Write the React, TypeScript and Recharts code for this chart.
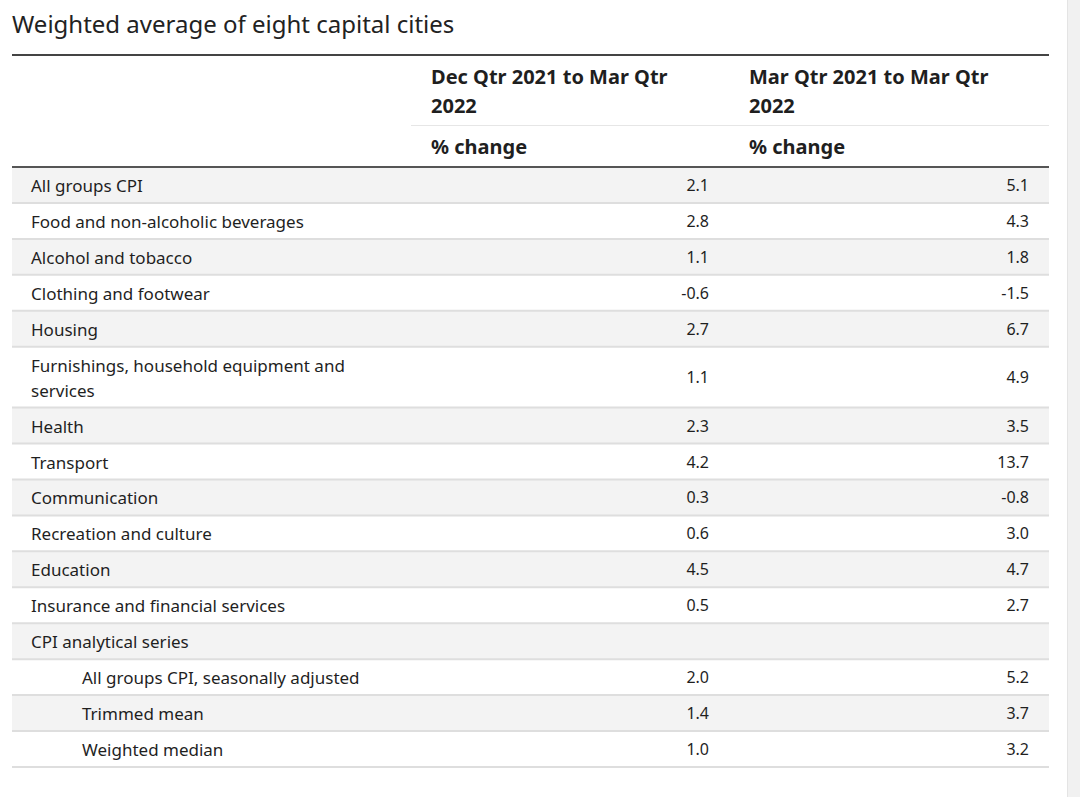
import { ScatterChart, Scatter, XAxis, YAxis, ReferenceArea, ReferenceLine } from 'recharts';

const categories = [
  'All groups CPI',
  'Food and non-alcoholic beverages',
  'Alcohol and tobacco',
  'Clothing and footwear',
  'Housing',
  'Furnishings, household equipment and services',
  'Health',
  'Transport',
  'Communication',
  'Recreation and culture',
  'Education',
  'Insurance and financial services',
  'CPI analytical series',
  'All groups CPI, seasonally adjusted',
  'Trimmed mean',
  'Weighted median',
];

// null = heading row with no figures
const decToMar = [2.1, 2.8, 1.1, -0.6, 2.7, 1.1, 2.3, 4.2, 0.3, 0.6, 4.5, 0.5, null, 2.0, 1.4, 1.0];
const marToMar = [5.1, 4.3, 1.8, -1.5, 6.7, 4.9, 3.5, 13.7, -0.8, 3.0, 4.7, 2.7, null, 5.2, 3.7, 3.2];

// sub-items of "CPI analytical series"
const subItems = ['All groups CPI, seasonally adjusted', 'Trimmed mean', 'Weighted median'];

const colHeaders = ['Dec Qtr 2021 to Mar Qtr', 'Mar Qtr 2021 to Mar Qtr'];

const FONT = '"Noto Sans", "Open Sans", sans-serif';
const TEXT = '#1f1f1f';
const MARGIN = { top: 167, right: 31, bottom: 30, left: 12 };
const LINE_H = 25;
const ROW_PAD = 11;

const wrap = (s: string, max = 40) => {
  const lines: string[] = [];
  let cur = '';
  s.split(' ').forEach((w) => {
    if ((cur + ' ' + w).trim().length > max) {
      lines.push(cur);
      cur = w;
    } else {
      cur = (cur + ' ' + w).trim();
    }
  });
  lines.push(cur);
  return lines;
};

// row extents in table units, grown by how many lines the label wraps to
let acc = 0;
const rows = categories.map((name, i) => {
  const lines = wrap(name);
  const top = acc;
  acc += ROW_PAD + lines.length * LINE_H;
  return { name, lines, dec: decToMar[i], mar: marToMar[i], x: 0, top, bottom: acc, y: (top + acc) / 2 };
});
const total = acc;

const fmt = (v: number | null) => (v === null ? '' : v.toFixed(1));

const RowShape = (props: any) => {
  const { cx, cy, payload } = props;
  const tx = cx + (subItems.includes(payload.name) ? 70 : 19);
  const n = payload.lines.length;
  return (
    <g fontFamily={FONT} fill={TEXT}>
      <text fontSize={17} dominantBaseline="central">
        {payload.lines.map((l: string, i: number) => (
          <tspan key={i} x={tx} y={cy - ((n - 1) * LINE_H) / 2 + i * LINE_H}>
            {l}
          </tspan>
        ))}
      </text>
      <text x={cx + 697} y={cy} fontSize={16} textAnchor="end" dominantBaseline="central">
        {fmt(payload.dec)}
      </text>
      <text x={cx + 1017} y={cy} fontSize={16} textAnchor="end" dominantBaseline="central">
        {fmt(payload.mar)}
      </text>
    </g>
  );
};

export default function App() {
  return (
    <div
      style={{
        position: 'absolute',
        left: 0,
        top: 0,
        width: 1080,
        height: 797,
        background: '#fff',
        fontFamily: FONT,
        color: TEXT,
        overflow: 'hidden',
      }}
    >
      <div style={{ position: 'absolute', left: 12, top: 8, fontSize: 24, lineHeight: '32px', color: '#222' }}>
        Weighted average of eight capital cities
      </div>
      <div style={{ position: 'absolute', left: 12, top: 54, width: 1037, height: 2, background: '#444' }} />
      {colHeaders.map((h, i) => (
        <div
          key={h}
          style={{
            position: 'absolute',
            left: i === 0 ? 431 : 749,
            top: 62,
            fontSize: 20,
            fontWeight: 700,
            lineHeight: '29px',
          }}
        >
          {h}
          <br />
          2022
        </div>
      ))}
      <div style={{ position: 'absolute', left: 411, top: 125, width: 638, height: 1, background: '#e6e6e6' }} />
      {colHeaders.map((h, i) => (
        <div
          key={h + 'u'}
          style={{
            position: 'absolute',
            left: i === 0 ? 431 : 749,
            top: 132,
            fontSize: 20,
            fontWeight: 700,
            lineHeight: '29px',
          }}
        >
          % change
        </div>
      ))}

      <div style={{ position: 'absolute', left: 0, top: 0 }}>
        <ScatterChart width={1080} height={797} margin={MARGIN}>
          <XAxis type="number" dataKey="x" domain={[0, 1]} hide />
          <YAxis type="number" dataKey="y" domain={[0, total]} reversed hide />
          {rows.map((r, i) => (
            <ReferenceArea
              key={'bg' + i}
              x1={0}
              x2={1}
              y1={r.top}
              y2={r.bottom}
              fill={i % 2 === 0 ? '#f3f3f3' : '#ffffff'}
              fillOpacity={1}
              stroke="none"
              ifOverflow="visible"
            />
          ))}
          {rows.map((r, i) => (
            <ReferenceLine
              key={'sep' + i}
              y={r.bottom}
              stroke="#dedede"
              strokeWidth={2}
              ifOverflow="visible"
            />
          ))}
          <ReferenceLine y={0} stroke="#555" strokeWidth={2} ifOverflow="visible" />
          <Scatter data={rows} shape={<RowShape />} isAnimationActive={false} />
        </ScatterChart>
      </div>

      <div
        style={{
          position: 'absolute',
          left: 1067,
          top: 0,
          width: 13,
          height: 797,
          background: '#f1f1f1',
          borderLeft: '1px solid #e4e4e4',
        }}
      />
    </div>
  );
}
